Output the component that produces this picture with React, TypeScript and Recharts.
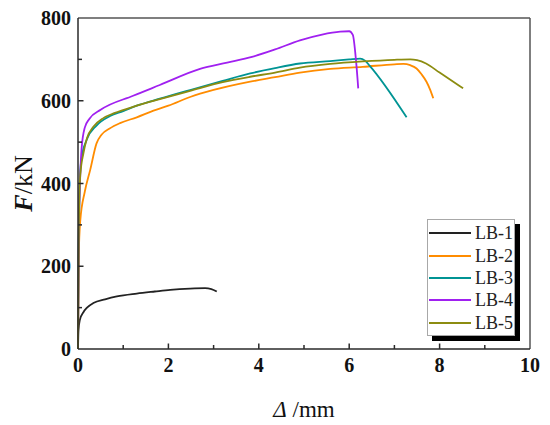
import React from "react";
import { LineChart, Line, XAxis, YAxis, ReferenceLine, Legend, Label } from "recharts";

type P = { x: number; y: number };
const mk = (xs: number[], ys: number[]): P[] => xs.map((x, i) => ({ x, y: ys[i] }));

const lb1X = [0, 0.01, 0.04, 0.12, 0.2, 0.34, 0.6, 0.86, 1.3, 1.7, 2.04, 2.48, 2.81, 2.95, 3.07];
const lb1Y = [0, 45, 70, 89, 100, 111, 120, 127, 134, 139, 143, 146, 147, 145, 139];

const lb2X = [0, 0.015, 0.05, 0.15, 0.27, 0.41, 0.52, 0.7, 0.93, 1.3, 1.67, 2.0, 2.48, 3.0, 3.81, 4.36, 4.91, 5.58, 6.3, 7.0, 7.2, 7.35, 7.49, 7.6, 7.71, 7.79, 7.86];
const lb2Y = [0, 220, 310, 380, 433, 497, 518, 533, 546, 560, 576, 588, 609, 626, 646, 657, 668, 677, 682, 688, 689, 686, 678, 664, 646, 627, 606];

const lb3X = [0, 0.01, 0.03, 0.04, 0.08, 0.19, 0.41, 0.71, 1.0, 1.3, 1.81, 2.48, 3.2, 3.81, 4.36, 4.91, 5.58, 6.0, 6.24, 6.35, 6.45, 7.27];
const lb3Y = [0, 200, 350, 408, 462, 505, 540, 563, 575, 588, 605, 626, 648, 666, 679, 690, 696, 700, 702, 697, 685, 560];

const lb4X = [0, 0.02, 0.05, 0.08, 0.15, 0.25, 0.5, 1.22, 1.81, 2.7, 3.3, 3.85, 4.36, 4.91, 5.4, 5.8, 6.0, 6.08, 6.15, 6.2];
const lb4Y = [0, 300, 420, 485, 535, 556, 578, 612, 638, 677, 692, 706, 724, 746, 760, 767, 768, 759, 698, 630];

const lb5X = [0, 0.01, 0.02, 0.05, 0.12, 0.2, 0.34, 0.56, 0.8, 1.3, 1.81, 2.48, 3.2, 3.81, 4.36, 4.91, 5.58, 6.3, 7.0, 7.35, 7.5, 7.7, 8.0, 8.52];
const lb5Y = [0, 150, 300, 420, 473, 510, 537, 558, 570, 588, 604, 624, 645, 658, 668, 680, 689, 695, 699, 700, 698, 690, 668, 630];

const seriesNames = ["LB-1", "LB-2", "LB-3", "LB-4", "LB-5"];
const seriesColors = ["#222222", "#FF8C00", "#009494", "#A020F0", "#8C8C10"];
const seriesData = [mk(lb1X, lb1Y), mk(lb2X, lb2Y), mk(lb3X, lb3Y), mk(lb4X, lb4Y), mk(lb5X, lb5Y)];

const xTicks = [0, 1, 2, 3, 4, 5, 6, 7, 8, 9, 10];
const xLabels = [0, 2, 4, 6, 8, 10];
const yTicks = [0, 100, 200, 300, 400, 500, 600, 700, 800];
const yLabels = [0, 200, 400, 600, 800];

const FONT = "Liberation Serif, Times New Roman, serif";
const AXIS = "#2a2a2a";
const BORDER = "#555555";
const OFF = 8; // default tickSize (6) + tickMargin (2)

function renderXTick(p: any) {
  const v = p.payload.value;
  const axisY = p.y - OFF;
  const major = xLabels.indexOf(v) >= 0;
  const inner = v !== 0 && v !== 10;
  return (
    <g>
      {inner ? <line x1={p.x} x2={p.x} y1={axisY} y2={axisY - (major ? 5.5 : 4)} stroke={AXIS} strokeWidth={1.5} /> : null}
      {major ? (
        <text x={p.x} y={p.y + 1} dy="0.71em" textAnchor="middle" fontFamily={FONT} fontSize={20} fontWeight="bold" fill="#111">
          {v}
        </text>
      ) : null}
    </g>
  );
}

function renderYTick(p: any) {
  const v = p.payload.value;
  const axisX = p.x + OFF;
  const major = yLabels.indexOf(v) >= 0;
  const inner = v !== 0 && v !== 800;
  return (
    <g>
      {inner ? <line x1={axisX} x2={axisX + (major ? 5.5 : 4)} y1={p.y} y2={p.y} stroke={AXIS} strokeWidth={1.5} /> : null}
      {major ? (
        <text x={p.x + 1} y={p.y} dy="0.355em" textAnchor="end" fontFamily={FONT} fontSize={20} fontWeight="bold" fill="#111">
          {v}
        </text>
      ) : null}
    </g>
  );
}

const LegendBox = (props: any) => {
  const payload = props.payload || [];
  return (
    <div
      style={{
        border: "1px solid #a8a8a8",
        background: "#fff",
        boxShadow: "5px 5px 0 #000",
        width: 86,
        height: 113,
        paddingTop: 2,
        boxSizing: "content-box",
        fontFamily: FONT,
      }}
    >
      {payload.map((e: any) => (
        <div key={e.value} style={{ display: "flex", alignItems: "center", height: 22.4 }}>
          <div style={{ width: 42, height: 2, background: e.color, marginLeft: 1, marginRight: 4 }} />
          <span style={{ fontSize: 18, color: "#222", lineHeight: "22px" }}>{e.value}</span>
        </div>
      ))}
    </div>
  );
};

export default function App() {
  return (
    <LineChart width={542} height={417} margin={{ top: 10, right: 20, left: 0, bottom: 46 }}>
      <XAxis
        dataKey="x"
        type="number"
        domain={[0, 10]}
        ticks={xTicks}
        interval={0}
        tickLine={false}
        height={30}
        axisLine={{ stroke: AXIS, strokeWidth: 1.5 }}
        tick={renderXTick}
      >
        <Label
          content={(p: any) => {
            const vb = p.viewBox || { x: 70, y: 341, width: 452, height: 30 };
            return (
              <text x={vb.x + vb.width / 2} y={vb.y + 68} textAnchor="middle" fontFamily={FONT} fontSize={23} fill="#111">
                <tspan fontStyle="italic">Δ</tspan>
                <tspan> /mm</tspan>
              </text>
            );
          }}
        />
      </XAxis>
      <YAxis
        type="number"
        domain={[0, 800]}
        ticks={yTicks}
        interval={0}
        tickLine={false}
        width={70}
        axisLine={{ stroke: AXIS, strokeWidth: 1.5 }}
        tick={renderYTick}
      >
        <Label
          content={(p: any) => {
            const vb = p.viewBox || { x: 0, y: 10, width: 70, height: 331 };
            const cx = vb.x + 24;
            const cy = vb.y + vb.height / 2;
            return (
              <text x={cx} y={cy} transform={`rotate(-90 ${cx} ${cy})`} textAnchor="middle" fontFamily={FONT} fontSize={26} fill="#111">
                <tspan fontWeight="bold" fontStyle="italic">F</tspan>
                <tspan>/kN</tspan>
              </text>
            );
          }}
        />
      </YAxis>
      <ReferenceLine y={800} stroke={BORDER} strokeWidth={1.5} />
      <ReferenceLine x={10} stroke={BORDER} strokeWidth={1.5} />
      {seriesData.map((d, i) => (
        <Line
          key={seriesNames[i]}
          data={d}
          dataKey="y"
          name={seriesNames[i]}
          type="monotone"
          stroke={seriesColors[i]}
          strokeWidth={1.8}
          dot={false}
          activeDot={false}
          isAnimationActive={false}
        />
      ))}
      <Legend
        layout="horizontal"
        verticalAlign="middle"
        align="center"
        content={<LegendBox />}
        wrapperStyle={{ left: 419, top: 211, width: 96, height: 122 }}
      />
    </LineChart>
  );
}
